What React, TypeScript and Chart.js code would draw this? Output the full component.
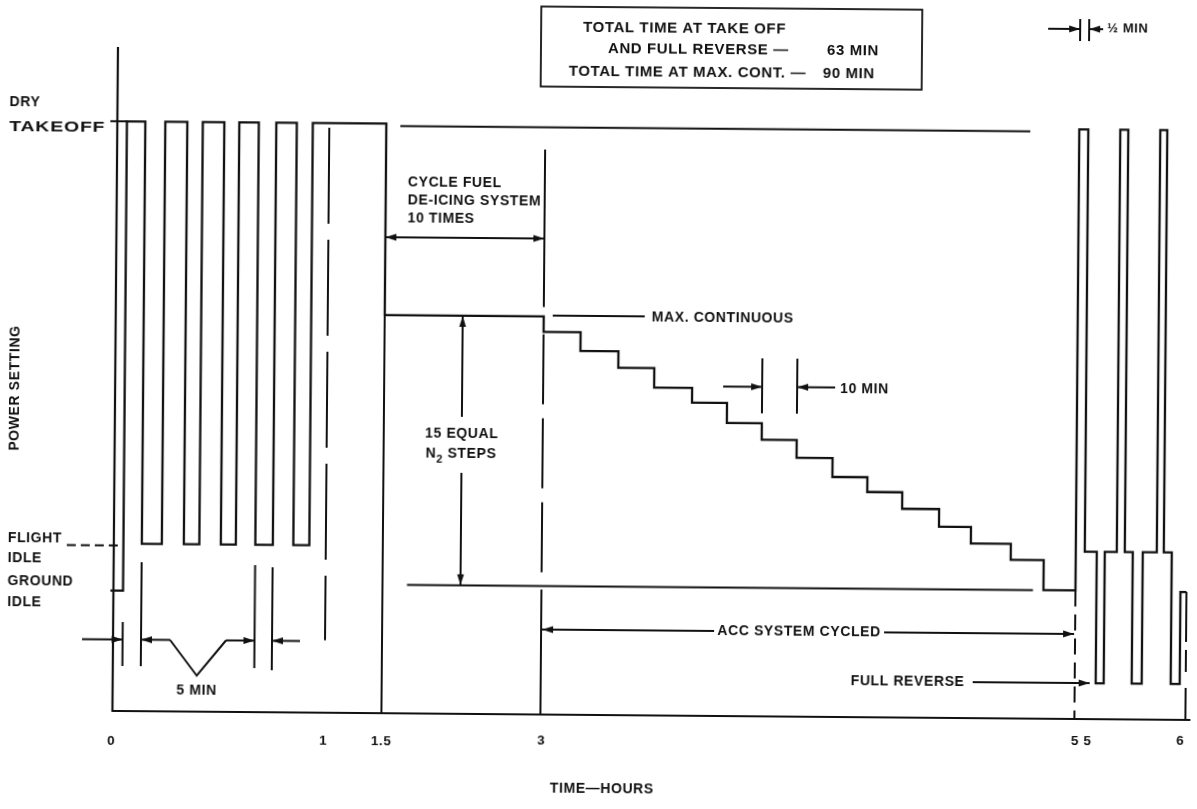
import React, { useEffect, useRef } from "react";
import { Chart, registerables } from "chart.js";

Chart.register(...registerables);

// ---- Data (x: schematic time units, diagram not to scale; y: power setting, % of dry takeoff) ----
const DRY_TAKEOFF = 100;
const MAX_CONT = 67.5;
const FLIGHT_IDLE = 28.4;
const GROUND_IDLE = 20.4;
const FULL_REVERSE = 6.1;
const END_LEVEL = 21.7;
const TAKEOFF_REF_LEVEL = 99.6;
const N2_BASE_LEVEL = 21.8;

const takeoffCycleTimes = [-3, 9.6, 28, 48, 70, 85.5, 107, 122, 141.5, 159, 179.5, 195.5, 269];
const takeoffCycleLevels = [
  GROUND_IDLE, DRY_TAKEOFF, FLIGHT_IDLE, DRY_TAKEOFF, FLIGHT_IDLE, DRY_TAKEOFF, FLIGHT_IDLE,
  DRY_TAKEOFF, FLIGHT_IDLE, DRY_TAKEOFF, FLIGHT_IDLE, DRY_TAKEOFF, MAX_CONT,
];
const n2StepTimes = [428, 465, 503, 539, 577, 612, 647, 682, 718, 753, 788, 825, 857, 897, 930];
const n2StepLevels = [64.9, 61.7, 58.9, 55.6, 53.1, 49.7, 46.9, 43.9, 40.7, 38.2, 35.4, 32.4, 29.6, 26.9, 21.8];
const reverseCycleTimes = [962, 971, 983, 991, 1003, 1011, 1019, 1029, 1043, 1050, 1058, 1067, 1073];
const reverseCycleLevels = [
  DRY_TAKEOFF, FLIGHT_IDLE, FULL_REVERSE, FLIGHT_IDLE, DRY_TAKEOFF, FLIGHT_IDLE, FULL_REVERSE,
  FLIGHT_IDLE, DRY_TAKEOFF, FLIGHT_IDLE, FULL_REVERSE, END_LEVEL, END_LEVEL,
];

// hour markers (schematic positions)
const xTickValues = [-1, 211, 269, 429, 969, 1068];
const xTickLabels = ["0", "1", "1.5", "3", "5 5", "6"];
const HOUR_1 = 212;
const HOUR_1_5 = 269;
const HOUR_3 = 428;
const HOUR_5 = 962;
const HOUR_6 = 1073;

const X_MIN = -4;
const X_MAX = 1078;
const Y_MAX = 112.6;

const INK = "#111111";
const FONT = '"Liberation Sans", Arial, sans-serif';
const SKEW = Math.tan((0.48 * Math.PI) / 180);

const pts = (xs: number[], ys: number[]) => xs.map((x, i) => ({ x, y: ys[i] }));

const annotationPlugin = {
  id: "schematicAnnotations",
  afterDatasetsDraw(chart: any) {
    const { ctx, scales } = chart;
    const xs = scales.x;
    const ys = scales.y;
    const X = (v: number) => xs.getPixelForValue(v);
    const Y = (v: number) => ys.getPixelForValue(v);
    ctx.save();
    ctx.strokeStyle = INK;
    ctx.fillStyle = INK;
    ctx.lineWidth = 2;
    ctx.lineCap = "butt";

    const line = (x1: number, y1: number, x2: number, y2: number, dash: number[] = [], w = 2) => {
      ctx.save();
      ctx.lineWidth = w;
      ctx.setLineDash(dash);
      ctx.beginPath();
      ctx.moveTo(x1, y1);
      ctx.lineTo(x2, y2);
      ctx.stroke();
      ctx.restore();
    };
    const head = (tx: number, ty: number, fx: number, fy: number) => {
      const a = Math.atan2(ty - fy, tx - fx);
      const L = 11;
      const W = 3.4;
      ctx.beginPath();
      ctx.moveTo(tx, ty);
      ctx.lineTo(tx - L * Math.cos(a) + W * Math.sin(a), ty - L * Math.sin(a) - W * Math.cos(a));
      ctx.lineTo(tx - L * Math.cos(a) - W * Math.sin(a), ty - L * Math.sin(a) + W * Math.cos(a));
      ctx.closePath();
      ctx.fill();
    };
    const arrow = (x1: number, y1: number, x2: number, y2: number, atStart = false, atEnd = true) => {
      line(x1, y1, x2, y2);
      if (atEnd) head(x2, y2, x1, y1);
      if (atStart) head(x1, y1, x2, y2);
    };
    const text = (
      s: string,
      px: number,
      py: number,
      align: CanvasTextAlign = "left",
      size = 14,
      fitWidth = 0
    ) => {
      ctx.save();
      ctx.font = `bold ${size}px ${FONT}`;
      (ctx as any).letterSpacing = "0.6px";
      ctx.textAlign = align;
      ctx.textBaseline = "middle";
      if (fitWidth > 0) {
        const w = ctx.measureText(s).width;
        ctx.translate(px, py);
        ctx.scale(fitWidth / w, 1);
        ctx.fillText(s, 0, 0);
      } else {
        ctx.fillText(s, px, py);
      }
      ctx.restore();
    };

    // axes
    line(X(0), Y(0), X(0), Y(Y_MAX), [], 2.2);
    line(X(-1), Y(0), X(X_MAX), Y(0), [], 2.2);

    // tick labels (kept level on the page)
    xTickValues.forEach((v, i) => {
      const px = X(v);
      text(xTickLabels[i], px, 741 - (px - 598.5) * SKEW, "center", 13.5);
    });
    text("TIME\u2014HOURS", 605, 789, "center", 14);

    // y-axis labels
    ctx.save();
    ctx.translate(15, 393);
    ctx.rotate(-Math.PI / 2);
    text("POWER SETTING", 0, 0, "center", 14);
    ctx.restore();
    text("DRY", 7, 107);
    text("TAKEOFF", 7, 132, "left", 14, 96);
    text("FLIGHT", 9, 543);
    text("IDLE", 9, 563);
    text("GROUND", 9, 586);
    text("IDLE", 9, 607);
    line(X(-7), Y(DRY_TAKEOFF), X(9.6), Y(DRY_TAKEOFF));
    line(68, Y(FLIGHT_IDLE) + 2, X(9.6), Y(FLIGHT_IDLE) + 2, [9, 5]);

    // summary box
    ctx.save();
    ctx.lineWidth = 1.8;
    ctx.strokeRect(538, 7, 381, 80);
    ctx.restore();
    text("TOTAL TIME AT TAKE OFF", 580, 27.5, "left", 15);
    text("AND FULL REVERSE \u2014", 605, 48.5, "left", 15);
    text("63 MIN", 824, 49, "left", 15);
    text("TOTAL TIME AT MAX. CONT. \u2014", 566, 72, "left", 15);
    text("90 MIN", 820, 72, "left", 15);

    // 1/2 MIN
    line(X(HOUR_5), 15, X(HOUR_5), 37);
    line(X(971), 15, X(971), 37);
    arrow(1045, 25, X(HOUR_5), 25);
    arrow(1100, 25, X(971), 25);
    text("\u00BD MIN", 1104, 24, "left", 13);

    // cycle fuel de-icing
    text("CYCLE FUEL", 406, 184);
    text("DE-ICING SYSTEM", 406, 202);
    text("10 TIMES", 406, 220);
    arrow(X(HOUR_1_5), 239, X(HOUR_3), 239, true, true);

    // max continuous
    line(552, 316, 644, 316);
    text("MAX. CONTINUOUS", 651, 317.5);

    // 15 equal N2 steps
    const ax = X(347);
    arrow(ax, 418, ax, Y(MAX_CONT));
    arrow(ax, 474, ax, Y(N2_BASE_LEVEL));
    text("15 EQUAL", ax, 435, "center");
    ctx.save();
    ctx.font = `bold 14px ${FONT}`;
    (ctx as any).letterSpacing = "0.6px";
    ctx.textBaseline = "middle";
    const nx = 426;
    ctx.fillText("N", nx, 455);
    const nw = ctx.measureText("N").width;
    ctx.font = `bold 11px ${FONT}`;
    ctx.fillText("2", nx + nw, 461);
    const tw = ctx.measureText("2").width;
    ctx.font = `bold 14px ${FONT}`;
    ctx.fillText(" STEPS", nx + nw + tw, 455);
    ctx.restore();

    // 10 MIN
    line(X(647), 357, X(647), 412);
    line(X(682), 357, X(682), 412);
    arrow(723, 385.5, X(647), 385.5);
    arrow(835, 385.5, X(682), 385.5);
    text("10 MIN", 840, 387);

    // ACC system cycled
    arrow(716, 630, X(HOUR_3 + 1), 630);
    arrow(886, 630, X(HOUR_5 - 1), 630);
    text("ACC SYSTEM CYCLED", 801, 630, "center");

    // full reverse
    text("FULL REVERSE", 853, 679.5);
    arrow(975, 679, 1092, 679);

    // 5 MIN
    line(X(9.6), 626, X(9.6), 670);
    line(X(28), 566, X(28), 670);
    line(X(141.5), 568, X(141.5), 671);
    line(X(159), 570, X(159), 673);
    arrow(84, 643.5, X(9.6), 643.5);
    arrow(172, 643.5, X(28), 643.5);
    ctx.save();
    ctx.lineWidth = 2;
    ctx.beginPath();
    ctx.moveTo(172, 643.5);
    ctx.lineTo(199, 679);
    ctx.lineTo(228, 643.5);
    ctx.stroke();
    ctx.restore();
    arrow(228, 643.5, X(141.5), 643.5);
    arrow(302, 643.5, X(159), 643.5);
    text("5 MIN", 199, 694, "center");

    ctx.restore();
  },
};

export default function App() {
  const canvasRef = useRef<HTMLCanvasElement | null>(null);

  useEffect(() => {
    if (!canvasRef.current) return;
    const trace = [
      ...pts(takeoffCycleTimes, takeoffCycleLevels),
      ...pts(n2StepTimes, n2StepLevels),
      ...pts(reverseCycleTimes, reverseCycleLevels),
    ];
    const seg = (data: { x: number; y: number }[], dash: number[] = [], width = 2) => ({
      data,
      borderColor: INK,
      borderWidth: width,
      borderDash: dash,
      pointRadius: 0,
      fill: false,
      tension: 0,
      clip: false as any,
    });
    const chart = new Chart(canvasRef.current, {
      type: "line",
      data: {
        datasets: [
          { ...seg(trace, [], 2.3), stepped: "before" as any, label: "Power setting" },
          seg([{ x: 283, y: TAKEOFF_REF_LEVEL }, { x: 913, y: TAKEOFF_REF_LEVEL }]),
          seg([{ x: 293.5, y: N2_BASE_LEVEL }, { x: 919.5, y: N2_BASE_LEVEL }]),
          seg([{ x: HOUR_1, y: 99.2 }, { x: HOUR_1, y: 12.3 }], [96, 16]),
          seg([{ x: HOUR_1_5, y: MAX_CONT }, { x: HOUR_1_5, y: 0 }]),
          seg([{ x: HOUR_3, y: 95.8 }, { x: HOUR_3, y: 69.1 }]),
          seg([{ x: HOUR_3, y: 64.5 }, { x: HOUR_3, y: 22 }], [70, 14]),
          seg([{ x: HOUR_3, y: 21.2 }, { x: HOUR_3, y: 0 }]),
          seg([{ x: HOUR_5, y: N2_BASE_LEVEL }, { x: HOUR_5, y: 0 }], [16, 8]),
          seg([{ x: HOUR_6, y: END_LEVEL }, { x: HOUR_6, y: 0 }], [50, 8, 22, 16]),
        ],
      },
      options: {
        responsive: false,
        maintainAspectRatio: false,
        animation: false,
        layout: { padding: { left: 111, right: 4, top: 51, bottom: 94 } },
        scales: {
          x: { type: "linear", min: X_MIN, max: X_MAX, display: false },
          y: { type: "linear", min: 0, max: Y_MAX, display: false },
        },
        plugins: { legend: { display: false }, tooltip: { enabled: false } },
      },
      plugins: [annotationPlugin],
    });
    return () => chart.destroy();
  }, []);

  return (
    <div style={{ position: "fixed", inset: 0, overflow: "hidden", background: "#ffffff" }}>
      <div
        style={{
          position: "absolute",
          left: 0,
          top: 0,
          width: 1197,
          height: 809,
          transform: "rotate(0.48deg)",
          transformOrigin: "598.5px 404.5px",
        }}
      >
        <canvas ref={canvasRef} width={1197} height={809} style={{ display: "block" }} />
      </div>
    </div>
  );
}
